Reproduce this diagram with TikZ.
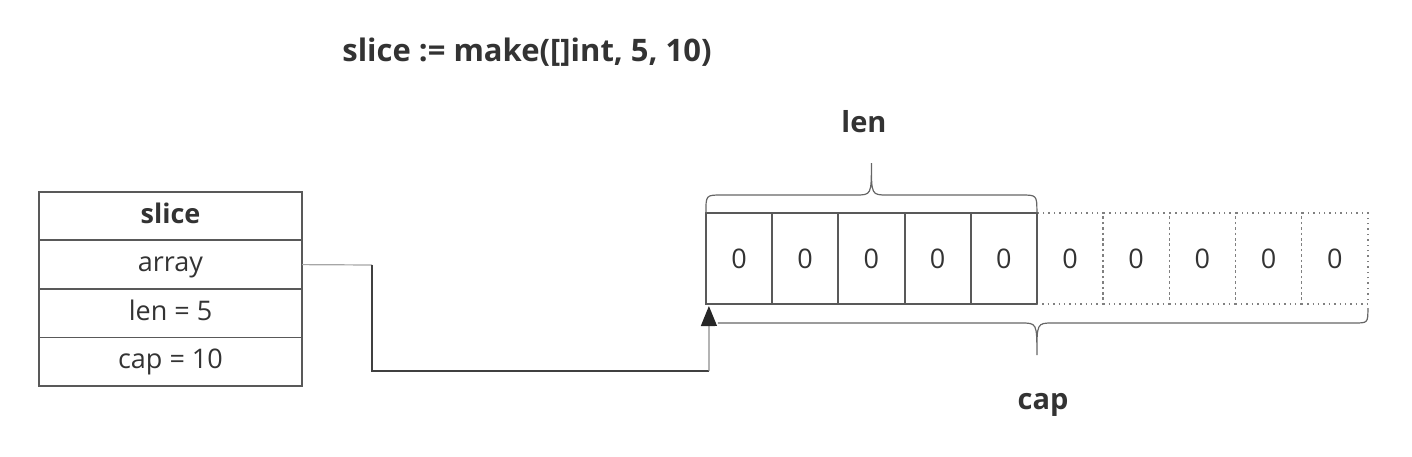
\documentclass[tikz,border=0pt]{standalone}
\usepackage{fontspec}
\setmainfont{Open Sans}
\usepackage{tikz}
\usetikzlibrary{arrows.meta,positioning,calc}

\begin{document}
\begin{tikzpicture}[
  x=0.5pt,y=-0.5pt,
  node distance=0pt,
  every node/.style={text=black!80,font=\fontsize{13.5}{15}\selectfont},
  field/.style={rectangle,draw=black!65,line width=0.9pt,outer sep=0pt,minimum width=131.5pt,minimum height=24.3pt,inner sep=0pt,text height=10pt,text depth=3pt},
  cell/.style={rectangle,draw=black!65,line width=1pt,outer sep=0pt,minimum width=33.1pt,minimum height=45.5pt,inner sep=0pt},
  spare/.style={rectangle,draw=black!50,dotted,line width=0.7pt,outer sep=0pt,minimum width=33.1pt,minimum height=45.5pt,inner sep=0pt},
  brace/.style={draw=black!60,line width=0.6pt},
  link/.style={draw=black!75,line width=0.6pt},
  label/.style={font=\bfseries\fontsize{14.5}{16}\selectfont}
]
\useasboundingbox (0,0) rectangle (1412,456);
% header
\node[label,font=\bfseries\fontsize{15.5}{17}\selectfont] (title) at (527,52) {slice := make([]int, 5, 10)};
% slice header struct
\node[field,font=\bfseries\fontsize{13.5}{15}\selectfont] (s1) at (170.5,216) {slice};
\node[field,below=of s1] (s2) {array};
\node[field,below=of s2] (s3) {len = 5};
\node[field,below=of s3] (s4) {cap = 10};
% backing array
\node[cell] (c1) at (739,258.5) {0};
\foreach \i [remember=\i as \j (initially 1)] in {2,...,5} {
  \node[cell,right=of c\j] (c\i) {0};
}
\foreach \i [remember=\i as \j (initially 5)] in {6,...,10} {
  \node[spare,right=of c\j] (c\i) {0};
}
\draw[draw=black!65,line width=1pt] (c5.north east) -- (c5.south east);
% braces
\draw[brace] (c1.north west) .. controls ($(c1.north west)+(0,-18)$) .. ($(c1.north west)+(16,-18)$)
  -- ($(c3.north)+(-16,-18)$) .. controls ($(c3.north)+(0,-18)$) .. ($(c3.north)+(0,-50)$)
  .. controls ($(c3.north)+(0,-18)$) .. ($(c3.north)+(16,-18)$)
  -- ($(c5.north east)+(-16,-18)$) .. controls ($(c5.north east)+(0,-18)$) .. (c5.north east);
\node[label] (lenlbl) at (864,122) {len};
\draw[brace] ($(c1.south west)+(12,19)$)
  -- ($(c5.south east)+(-16,19)$) .. controls ($(c5.south east)+(0,19)$) .. ($(c5.south east)+(0,51)$)
  .. controls ($(c5.south east)+(0,19)$) .. ($(c5.south east)+(16,19)$)
  -- ($(c10.south east)+(-14,19)$) .. controls ($(c10.south east)+(0,19)$) .. ($(c10.south east)+(0,4)$);
\node[label] (caplbl) at (1043,405) {cap};
% pointer
\coordinate (bend) at (709,371);
\draw[link,draw=black!35] (s2.east) -- (372,265);
\draw[link] (372,265) |- (bend);
\draw[link,draw=black!45,-{Triangle[length=10pt,width=8pt,fill=black!85,color=black!85]}] (bend) -- ([xshift=1.5pt,yshift=-1pt]c1.south west);
\end{tikzpicture}
\end{document}
